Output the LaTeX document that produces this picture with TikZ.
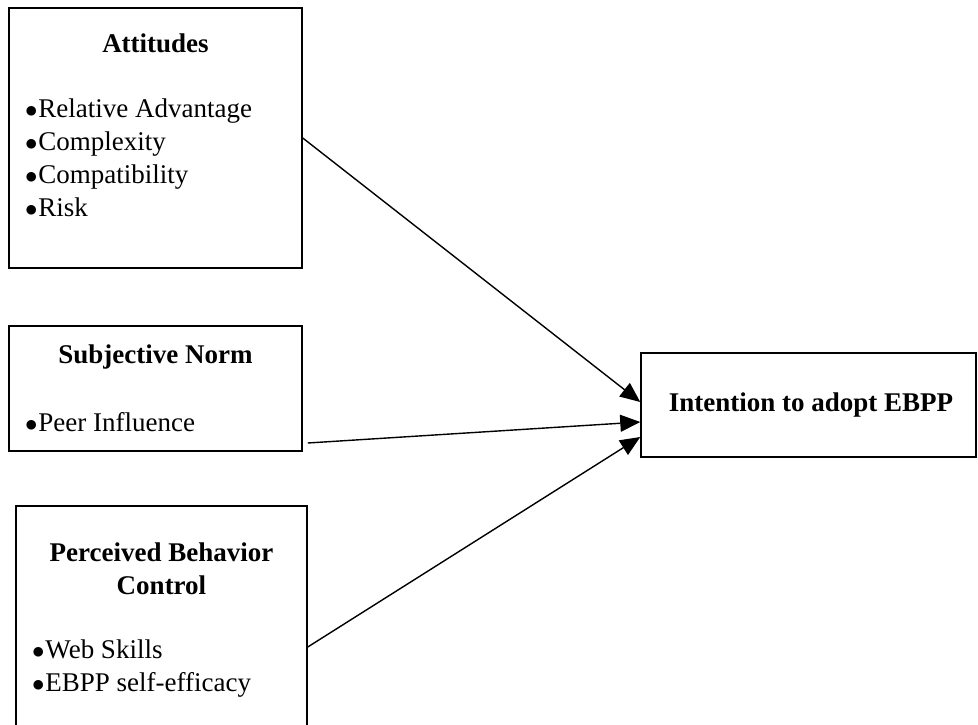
\documentclass[tikz,border=0pt]{standalone}
\usepackage{fontspec}
\setmainfont{Liberation Serif}
\usetikzlibrary{arrows.meta}

\newcommand{\bul}{{\fontsize{32}{33}\selectfont$\bullet$}\kern0.03em}

\tikzset{
  factor/.style={draw, line width=1.5pt, inner sep=0pt},
  heading/.style={font=\fontsize{27}{33}\selectfont\bfseries, align=center, inner sep=0pt},
  items/.style={font=\fontsize{27}{33}\selectfont, align=left, inner sep=0pt, anchor=west},
  link/.style={line width=1.4pt, -{Triangle[length=20pt,width=17pt]}}
}

\begin{document}
\begin{tikzpicture}[x=1pt,y=-1pt]
\useasboundingbox (0,0) rectangle (978,725);

% attitudes
\node[factor, minimum width=293, minimum height=260] (att) at (155.5,138) {};
\node[heading] (attT) at (155.5,43) {Attitudes};
\node[items] (attL) at (25,157.5) {\bul Relative Advantage\\\bul Complexity\\\bul Compatibility\\\bul Risk};

% subjective norm
\node[factor, minimum width=293, minimum height=125] (sn) at (155.5,388.5) {};
\node[heading] (snT) at (155.5,357) {Subjective Norm};
\node[items] (snL) at (25,422) {\bul Peer Influence};

% perceived behavior control
\node[factor, minimum width=291, minimum height=234] (pbc) at (161.5,623) {};
\node[heading] (pbcT) at (161.5,568.5) {Perceived Behavior\\Control};
\node[items] (pbcL) at (32,668.5) {\bul Web Skills\\\bul EBPP self-efficacy};

% intention
\node[factor, minimum width=335, minimum height=104] (int) at (808.5,405) {};
\node[heading] (intT) at (811,405) {Intention to adopt EBPP};

\draw[link] (att.east) -- ([yshift=3pt]int.west);
\draw[link] ([shift={(5pt,-54.5pt)}]sn.east) -- ([yshift=-17pt]int.west);
\draw[link] ([yshift=-24pt]pbc.east) -- ([yshift=-32pt]int.west);
\end{tikzpicture}
\end{document}
